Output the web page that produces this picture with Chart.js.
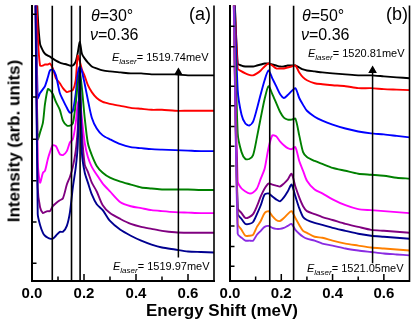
<!DOCTYPE html>
<html><head><meta charset="utf-8">
<script src="https://cdn.jsdelivr.net/npm/chart.js@4/dist/chart.umd.min.js"></script>
<style>
html,body{margin:0;padding:0;background:#fff;}
#wrap{position:relative;width:415px;height:323px;overflow:hidden;font-family:"Liberation Sans",Arial,sans-serif;color:#000;}
canvas{position:absolute;top:0;}
.t{position:absolute;white-space:nowrap;line-height:1;}
.el{font-size:11px;}
.el sub{font-size:8px;font-style:italic;vertical-align:-3px;line-height:1;}
.ax{position:absolute;white-space:nowrap;line-height:1;font-weight:bold;font-size:17px;}
</style></head><body>
<div id="wrap">
<canvas id="ca" width="222" height="323" style="left:0;width:222px;height:323px"></canvas>
<canvas id="cb" width="215" height="323" style="left:200px;width:215px;height:323px"></canvas>

<div class="t" style="left:91px;top:8px;font-size:16px"><i>θ</i>=30°</div>
<div class="t" style="left:90px;top:27px;font-size:16px"><i>ν</i>=0.36</div>
<div class="t" style="left:189px;top:5px;font-size:18px">(a)</div>
<div class="t el" style="left:112px;top:52px"><i>E</i><sub>laser</sub>= 1519.74meV</div>
<div class="t el" style="left:113px;top:261px"><i>E</i><sub>laser</sub>= 1519.97meV</div>

<div class="t" style="left:302px;top:8px;font-size:16px"><i>θ</i>=50°</div>
<div class="t" style="left:301px;top:27px;font-size:16px"><i>ν</i>=0.36</div>
<div class="t" style="left:386px;top:5px;font-size:18px">(b)</div>
<div class="t el" style="left:308px;top:48px"><i>E</i><sub>laser</sub>= 1520.81meV</div>
<div class="t el" style="left:307px;top:263px"><i>E</i><sub>laser</sub>= 1521.05meV</div>

<div class="ax" style="left:222px;top:310px;transform:translate(-50%,-50%)">Energy Shift (meV)</div>
<div class="ax" style="left:14px;top:141px;transform:translate(-50%,-50%) rotate(-90deg)">Intensity (arb. units)</div>
</div>
<script>
// ---------- data ----------
const xMin = 0, xMax = 0.7;
const yMin = 0, yMax = 280;
const xTickLabels = [0, 0.2, 0.4, 0.6];
const xMinorTicks = [0.1, 0.3, 0.5];
const yTicksA = [18, 60, 102, 144, 187, 229, 271];
const yTicksB = [15, 35, 56, 76, 96, 117, 137, 157, 178, 198, 218, 238, 259];

// panel (a) energy shift grid and spectra (arb. units)
const xA = [0.012,0.022,0.031,0.042,0.050,0.061,0.069,0.080,0.092,0.107,0.119,0.134,0.146,0.157,0.168,0.176,0.184,0.192,0.203,0.215,0.23,0.249,0.272,0.30,0.34,0.38,0.42,0.46,0.50,0.55,0.60,0.65,0.70];
const aBlack   = [330,270,241,234,231,229,228,226,224,222,221,220,219,219,223,232,243,231,226,222,218,216,214,213,212,211,211,210,210,210,209,209,209];
const aRed     = [330,251,219,219,220,220,221,216,206,201,196,192,193,194,204,229,223,215,208,199,192,186,182,180,178,176,175,174,174,173,173,173,173];
const aBlue    = [330,186,191,195,198,207,214,215,209,191,184,176,171,173,190,211,218,213,200,184,166,155,148,144,139,136,135,134,133.5,133,132.5,132,132];
const aGreen   = [330,144,151,161,180,195,194,190,182,174,163,158,158,160,180,200,212,196,165,140,128,117,110,105,101,98,95,94,93,93,93,92.5,92.5];
const aMagenta = [330,121,100,110,112,124,131,138,137,129,128,132,141,144,160,180,185,165,140,126,116,108,99,91,80,76,74,72,71,70,69.5,69,69];
const aPurple  = [330,95,75,69,70,71,71,76,79,82,84,98,106,116,132,155,195,150,118,111,100,91,77,69,63,58,55,53,51,49.5,49,49,49];
const aNavy    = [330,68,57,49,46,44,43,43,46,50,50,56,70,95,115,138,216,130,110,100,88,78,72,61,52,46,41,37,34,32,30,29.5,29];

// panel (b)
const xB = [0.012,0.03,0.045,0.06,0.075,0.09,0.105,0.12,0.135,0.15,0.165,0.18,0.195,0.21,0.225,0.24,0.255,0.27,0.285,0.30,0.33,0.36,0.40,0.45,0.50,0.55,0.60,0.65,0.70];
const bBlack   = [330,221,219,218,218,218,219,220,221,221,220,219,218,218,219,219,219,217,215,214,213,212,211,210,209,209,208,207,206];
const bRed     = [330,216,213,211,209.5,209,211,214,218,221,219,216,216,216,217,218,219,212,207,204,201,200,199,198,196,196,195,194.5,194];
const bBlue    = [330,194,169,160,158,162,175,190,204,214,206,198,190,186,189,193,196,186,179,173,167,163,159,155,152,150,149,147.5,146];
const bGreen   = [330,150,131,124,124,128,146,166,185,198,190,181,172,166,164,164,165,148,131,126,122,119,115,112,109,108,107,105,104];
const bMagenta = [330,101,94,91,89,90,94,104,114,135,148,147,142,138,135,134,136,122,112,102,93,89,83,77,73,72,71,70,69];
const bPurple  = [330,74,69,64,65,68,76,86,94,99,98,97,96,99,103,109,96,85,76,71,68,65,62,58,55,52,51,50,49];
const bNavy    = [330,68,63,58,58,60,68,77,88,89,86,83,81,85,91,98,86,74,65,62,59,57,54,51,48,46,45,44,43];
const bOrange  = [330,58,52,46,46,47,55,61,69,71,66,62,61,64,68,71,64,57,51,49,45,44,41,38,36,34,33,32,31];
const bViolet  = [330,48,44,41,41,41,47,51,55,56,54,53,53,54,56,58,52,48,45,43,41,38,36,33,31,29.5,28,27,26];

// guide lines and arrows
const vlinesA = [0.078, 0.152, 0.185];
const vlinesB = [0.155, 0.248];
const arrowA = {x: 0.563, from: 24, to: 212};
const arrowB = {x: 0.556, from: 18, to: 214};

// ---------- build ----------
const FONT = "'Liberation Sans', Arial, sans-serif";
function series(xs, ys, color, i, n){
  return {data: xs.map((x,k)=>({x, y: ys[k]})), borderColor: color, borderWidth: 1.9,
          pointRadius: 0, tension: 0.25, fill:false, order: n - i};
}
function guides(vl, arrow){
  const ds = vl.map(v => ({data:[{x:v,y:yMin},{x:v,y:yMax}], borderColor:'#000', borderWidth:1.6, pointRadius:0, order:-10}));
  ds.push({data:[{x:arrow.x,y:arrow.from},{x:arrow.x,y:arrow.to}], borderColor:'#000', borderWidth:1.5,
           pointRadius:[0,3.5], pointStyle:'triangle', pointBackgroundColor:'#000', pointBorderColor:'#000', order:-11});
  return ds;
}
const frameTicks = {
  id:'frameTicks',
  afterDraw(chart){
    const {ctx, chartArea:a, scales:{x, y}} = chart;
    const yt = chart.options.plugins.frameTicks.yTicks;
    ctx.save();
    ctx.strokeStyle = '#000';
    ctx.lineWidth = 1.6;
    ctx.beginPath();
    ctx.moveTo(a.right, a.top); ctx.lineTo(a.right, a.bottom + 1);
    ctx.stroke();
    ctx.lineWidth = 1.5;
    ctx.beginPath();
    xTickLabels.forEach(v => { const p = x.getPixelForValue(v); if (v > xMin) { ctx.moveTo(p, a.bottom); ctx.lineTo(p, a.bottom - 7); } });
    xMinorTicks.forEach(v => { const p = x.getPixelForValue(v); ctx.moveTo(p, a.bottom); ctx.lineTo(p, a.bottom - 4.5); });
    yt.forEach(v => { const p = y.getPixelForValue(v); ctx.moveTo(a.left, p); ctx.lineTo(a.left + 4.5, p); });
    ctx.stroke();
    ctx.restore();
  }
};
function makeChart(id, datasets, yWidth, padRight, yTicks){
  return new Chart(document.getElementById(id), {
    type:'line',
    data:{datasets},
    plugins:[frameTicks],
    options:{
      responsive:false, animation:false, devicePixelRatio:1,
      layout:{padding:{top:1, right:padRight, bottom:0, left:0}},
      plugins:{legend:{display:false}, tooltip:{enabled:false}, frameTicks:{yTicks}},
      scales:{
        x:{type:'linear', min:xMin, max:xMax,
           afterBuildTicks: s => { s.ticks = xTickLabels.map(v=>({value:v})); },
           afterFit: s => { s.height = 42; },
           ticks:{callback:v=>v.toFixed(1), font:{family:FONT, size:15, weight:'bold'}, color:'#000', padding:4, maxRotation:0, autoSkip:false},
           grid:{drawOnChartArea:false, drawTicks:false, color:'rgba(0,0,0,0)'},
           border:{display:true, color:'#000', width:2}},
        y:{type:'linear', min:yMin, max:yMax,
           afterBuildTicks: s => { s.ticks = []; },
           afterFit: s => { s.width = yWidth; },
           ticks:{display:false},
           grid:{drawOnChartArea:false, drawTicks:false, color:'rgba(0,0,0,0)'},
           border:{display:true, color:'#000', width:2}}
      }
    }
  });
}
const colsA = ['#000000','#ff0000','#0000ff','#008000','#ff00ff','#800080','#000090'];
const setA = [aBlack,aRed,aBlue,aGreen,aMagenta,aPurple,aNavy];
const dsA = setA.map((ys,i)=>series(xA, ys, colsA[i], i, setA.length)).concat(guides(vlinesA, arrowA));
makeChart('ca', dsA, 32, 8, yTicksA);

const colsB = ['#000000','#ff0000','#0000ff','#008000','#ff00ff','#800080','#000090','#ff8000','#8a2be2'];
const setB = [bBlack,bRed,bBlue,bGreen,bMagenta,bPurple,bNavy,bOrange,bViolet];
const dsB = setB.map((ys,i)=>series(xB, ys, colsB[i], i, setB.length)).concat(guides(vlinesB, arrowB));
makeChart('cb', dsB, 30, 2, yTicksB);
</script>
</body></html>
